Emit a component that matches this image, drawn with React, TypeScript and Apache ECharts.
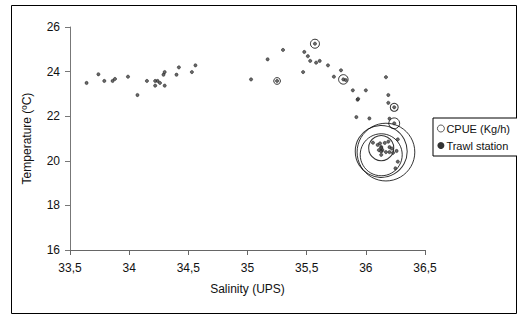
import React, { useEffect, useRef } from 'react';
import * as echarts from 'echarts';

// Salinity (UPS), Temperature (ºC)
const trawlStations: number[][] = [
  [33.64, 23.49], [33.74, 23.88], [33.79, 23.58], [33.86, 23.58], [33.88, 23.67],
  [33.99, 23.77], [34.07, 22.95], [34.15, 23.58], [34.22, 23.58], [34.22, 23.37],
  [34.24, 23.58], [34.26, 23.49], [34.29, 23.86], [34.30, 23.98], [34.30, 23.37],
  [34.40, 23.86], [34.42, 24.19], [34.53, 23.98], [34.56, 24.28],
  [35.03, 23.65], [35.25, 23.58], [35.17, 24.55], [35.30, 24.97], [35.57, 25.25],
  [35.48, 24.88], [35.51, 24.69], [35.53, 24.48], [35.47, 23.98], [35.58, 24.40],
  [35.61, 24.48], [35.68, 24.28], [35.73, 23.77], [35.79, 24.06], [35.81, 23.65],
  [35.83, 23.62], [35.89, 23.16], [35.93, 22.74], [35.935, 22.78], [35.92, 21.96],
  [36.0, 23.16], [36.03, 21.9],
  [36.17, 23.75], [36.19, 22.95], [36.19, 22.6], [36.24, 22.4], [36.20, 21.89],
  [36.24, 21.68], [36.27, 20.96], [36.26, 20.44], [36.27, 19.96], [36.25, 19.66],
  [36.06, 20.81], [36.10, 20.71], [36.12, 20.78], [36.13, 20.62], [36.14, 20.48],
  [36.11, 20.48], [36.19, 20.86], [36.20, 20.61], [36.23, 20.36], [36.20, 20.39],
  [36.16, 20.80], [36.17, 20.39], [36.13, 20.42], [36.13, 20.27], [36.13, 20.57],
  [36.22, 20.55],
];

// Salinity, Temperature, CPUE (Kg/h)
const cpueStations: number[][] = [
  [35.25, 23.58, 5], [35.57, 25.25, 9], [35.81, 23.65, 10], [36.24, 22.4, 7],
  [36.24, 21.68, 13], [36.17, 20.39, 370], [36.13, 20.42, 300], [36.13, 20.27, 196],
  [36.13, 20.57, 70],
];

const salinityRange = [33.5, 36.5, 0.5];
const temperatureRange = [16, 26, 2];

const FONT = 'Liberation Sans, Arial, sans-serif';

export default function App() {
  const ref = useRef<HTMLDivElement>(null);
  useEffect(() => {
    if (!ref.current) return;
    const chart = echarts.init(ref.current, null, { renderer: 'svg' });
    chart.setOption({
      animation: false,
      backgroundColor: '#fff',
      textStyle: { fontFamily: FONT },
      grid: { left: 70, top: 27, width: 355, height: 223, containLabel: false },
      xAxis: {
        type: 'value',
        min: salinityRange[0],
        max: salinityRange[1],
        interval: salinityRange[2],
        name: 'Salinity (UPS)',
        nameLocation: 'middle',
        nameGap: 33,
        nameTextStyle: { color: '#111', fontSize: 12, fontFamily: FONT },
        axisLine: { lineStyle: { color: '#666', width: 1 } },
        axisTick: { inside: false, length: 5, lineStyle: { color: '#666' } },
        axisLabel: {
          color: '#111', fontSize: 12, fontFamily: FONT, margin: 12,
          formatter: (v: number) => String(v).replace('.', ','),
        },
        splitLine: { show: false },
      },
      yAxis: {
        type: 'value',
        min: temperatureRange[0],
        max: temperatureRange[1],
        interval: temperatureRange[2],
        name: 'Temperature (ºC)',
        nameLocation: 'middle',
        nameGap: 37,
        nameTextStyle: { color: '#111', fontSize: 12, fontFamily: FONT },
        axisLine: { show: true, lineStyle: { color: '#777', width: 1 } },
        axisTick: { show: true, inside: false, length: 5, lineStyle: { color: '#777' } },
        axisLabel: { color: '#111', fontSize: 12, fontFamily: FONT, margin: 10 },
        splitLine: { show: false },
      },
      legend: {
        orient: 'vertical',
        left: 433,
        top: 118,
        width: 84,
        padding: [5, 8, 5, 4],
        itemGap: 6,
        itemWidth: 7,
        itemHeight: 7,
        borderColor: '#000',
        borderWidth: 1,
        backgroundColor: '#fff',
        textStyle: { color: '#111', fontSize: 11, fontFamily: FONT, padding: [0, 0, 0, -3] },
        data: [
          {
            name: 'CPUE (Kg/h)',
            icon: 'circle',
            itemStyle: { color: '#fff', borderColor: '#000', borderWidth: 0.8 },
          },
          {
            name: 'Trawl station',
            icon: 'circle',
            itemStyle: { color: '#000', borderColor: '#000', borderWidth: 0 },
          },
        ],
      },
      graphic: [
        {
          type: 'rect',
          shape: { x: 11.5, y: 5.5, width: 505, height: 308 },
          style: { fill: 'none', stroke: '#000', lineWidth: 1 },
          silent: true,
          z: -1,
        },
      ],
      series: [
        {
          name: 'CPUE (Kg/h)',
          type: 'scatter',
          data: cpueStations,
          symbol: 'circle',
          symbolSize: (v: number[]) => 3 * Math.sqrt(v[2]),
          itemStyle: { color: 'rgba(255,255,255,0)', borderColor: '#000', borderWidth: 1 },
          z: 2,
        },
        {
          name: 'Trawl station',
          type: 'scatter',
          data: trawlStations,
          symbol: 'circle',
          symbolSize: 3.2,
          itemStyle: { color: '#444', borderColor: '#111', borderWidth: 0.6 },
          z: 3,
        },
      ],
    });
    return () => chart.dispose();
  }, []);
  return (
    <div
      ref={ref}
      style={{ position: 'fixed', left: 0, top: 0, width: 517, height: 320 }}
    />
  );
}
